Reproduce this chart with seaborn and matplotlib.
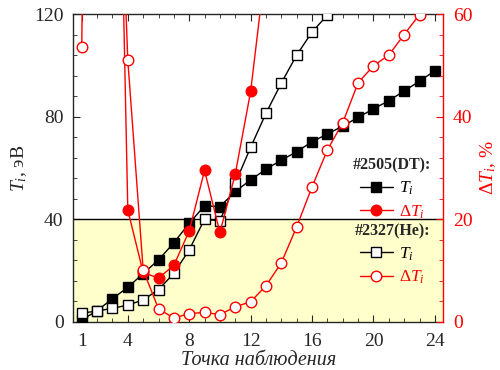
import matplotlib
matplotlib.use("Agg")
import matplotlib.pyplot as plt
import seaborn as sns
from matplotlib.lines import Line2D
from matplotlib.ticker import MultipleLocator

# observation points
points = list(range(1, 25))

# shot #2505 (DT)
dt_ti = [0.7, 4.3, 9.0, 13.4, 18.8, 24.1, 30.8, 38.4, 45.2, 44.9, 50.8, 55.3,
         59.5, 63.0, 66.3, 70.2, 73.2, 76.3, 79.7, 83.0, 86.2, 90.0, 93.8, 97.9]
dt_dti_points = [3, 4, 5, 6, 7, 8, 9, 10, 11, 12, 13]
dt_dti = [165, 21.8, 9.6, 8.5, 11.0, 17.7, 29.5, 17.4, 28.8, 44.9, 70]

# shot #2327 (He)
he_ti_points = list(range(1, 18))
he_ti = [3.3, 4.2, 5.2, 6.5, 8.5, 12.5, 18.9, 28.0, 40.0, 39.3, 54.0, 68.0,
         81.3, 93.1, 104.0, 113.0, 119.6]
he_dti_points = list(range(1, 24))
he_dti = [53.6, 300, 130, 51.0, 10.1, 2.5, 0.7, 1.6, 1.8, 1.4, 2.9, 3.9,
          7.0, 11.5, 18.5, 26.3, 33.5, 38.8, 46.6, 49.9, 52.0, 56.0, 59.9]

RED = "#ff0000"

sns.set_style("ticks")
plt.rcParams["font.family"] = ["Liberation Serif", "DejaVu Serif"]
plt.rcParams["mathtext.fontset"] = "custom"
plt.rcParams["mathtext.rm"] = "Liberation Serif"
plt.rcParams["mathtext.it"] = "Liberation Serif:italic"
plt.rcParams["mathtext.bf"] = "Liberation Serif:bold"

fig = plt.figure(figsize=(5, 3.7), dpi=100)
ax = fig.add_axes([0.1466, 0.1305, 0.74, 0.8315])
ax2 = ax.twinx()

# highlighted zone below 40 eV
ax.axhspan(0, 40, color="#ffffcc", zorder=0)
ax.axhline(40, color="black", lw=1.0, zorder=1)

# Ti curves (left axis)
sns.lineplot(x=points, y=dt_ti, ax=ax, color="black", lw=1.0, marker="s",
             markersize=6.6, markerfacecolor="black", markeredgecolor="black",
             markeredgewidth=1.0, zorder=3)
sns.lineplot(x=he_ti_points, y=he_ti, ax=ax, color="black", lw=1.0, marker="s",
             markersize=6.6, markerfacecolor="white", markeredgecolor="black",
             markeredgewidth=1.0, zorder=3)

# dTi curves (right axis)
sns.lineplot(x=dt_dti_points, y=dt_dti, ax=ax2, color=RED, lw=1.0, marker="o",
             markersize=7.6, markerfacecolor=RED, markeredgecolor=RED,
             markeredgewidth=1.0, zorder=3)
sns.lineplot(x=he_dti_points, y=he_dti, ax=ax2, color=RED, lw=1.0, marker="o",
             markersize=7.6, markerfacecolor="white", markeredgecolor=RED,
             markeredgewidth=1.0, zorder=3)

ax.set_xlim(0.45, 24.55)
ax.set_ylim(0, 120)
ax2.set_ylim(0, 60)

ax.set_xticks([1, 4, 8, 12, 16, 20, 24])
ax.xaxis.set_minor_locator(MultipleLocator(1))
ax.set_yticks([0, 40, 80, 120])
ax.yaxis.set_minor_locator(MultipleLocator(8))
ax2.set_yticks([0, 20, 40, 60])
ax2.yaxis.set_minor_locator(MultipleLocator(4))

ax.tick_params(axis="both", which="both", direction="in", top=True,
               right=False, labelsize=14)
ax.tick_params(axis="y", pad=7)
ax.tick_params(axis="x", pad=8)
ax.tick_params(which="major", length=5)
ax.tick_params(which="minor", length=3)
ax2.tick_params(axis="y", which="both", direction="in", colors=RED,
                labelsize=14, pad=7)
ax2.tick_params(which="major", length=5)
ax2.tick_params(which="minor", length=3)

ax.spines["right"].set_visible(False)
ax2.spines["left"].set_visible(False)
ax2.spines["top"].set_visible(False)
ax2.spines["bottom"].set_visible(False)
ax2.spines["right"].set_color(RED)
for s in ["left", "top", "bottom"]:
    ax.spines[s].set_linewidth(1.0)
ax2.spines["right"].set_linewidth(1.0)

ax.set_xlabel("Точка наблюдения", fontsize=14.5, style="italic", labelpad=1)
ax.set_ylabel("$T_i$, эВ", fontsize=14, labelpad=4)
ax2.set_ylabel(r"$\Delta T_i$, %", fontsize=14, color=RED, labelpad=4)

# legends
h_dt = [Line2D([], [], color="black", lw=1.0, marker="s", markersize=6.6,
               markerfacecolor="black"),
        Line2D([], [], color=RED, lw=1.0, marker="o", markersize=7.6,
               markerfacecolor=RED, markeredgecolor=RED)]
h_he = [Line2D([], [], color="black", lw=1.0, marker="s", markersize=6.6,
               markerfacecolor="white"),
        Line2D([], [], color=RED, lw=1.0, marker="o", markersize=7.6,
               markerfacecolor="white", markeredgecolor=RED)]
labels = ["$T_i$", r"$\Delta T_i$"]

leg_kw = dict(loc="upper center", frameon=False, fontsize=12.5,
              handlelength=1.9, labelspacing=0.35, borderpad=0.1,
              handletextpad=0.35, labelcolor=["black", RED])
leg1 = ax2.legend(h_dt, labels, title="#2505(DT):",
                  bbox_to_anchor=(0.862, 0.567), **leg_kw)
leg1.get_title().set_fontweight("bold")
leg1.get_title().set_fontsize(11.5)
ax2.add_artist(leg1)
leg2 = ax2.legend(h_he, labels, title="#2327(He):",
                  bbox_to_anchor=(0.862, 0.354), **leg_kw)
leg2.get_title().set_fontweight("bold")
leg2.get_title().set_fontsize(11.5)

fig.savefig("out.png", dpi=100)
